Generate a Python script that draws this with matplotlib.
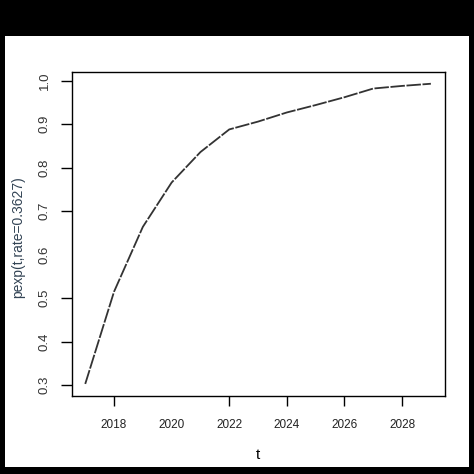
import matplotlib
matplotlib.use('Agg')
import matplotlib.pyplot as plt
from matplotlib.patches import Rectangle

# values (one per year)
years = [2017, 2018, 2019, 2020, 2021, 2022, 2023, 2024, 2025, 2026, 2027, 2028, 2029]
prob = [0.303, 0.515, 0.664, 0.766, 0.836, 0.888, 0.906, 0.927, 0.944, 0.962, 0.982, 0.988, 0.993]

x_ticks = [2018, 2020, 2022, 2024, 2026, 2028]
y_ticks = [0.3, 0.4, 0.5, 0.6, 0.7, 0.8, 0.9, 1.0]

plt.rcParams['font.family'] = ['Liberation Sans', 'DejaVu Sans']

fig = plt.figure(figsize=(4.74, 4.74), dpi=100)
fig.patch.set_facecolor('black')
# white panel inside the black frame
fig.patches.append(Rectangle((5 / 474, 7 / 474), 464 / 474, 431 / 474,
                             transform=fig.transFigure, facecolor='white',
                             edgecolor='none', zorder=-10))

ax = fig.add_axes([71.7 / 474, 78.3 / 474, 373.3 / 474, 323.4 / 474])
ax.set_zorder(5)
ax.plot(years, prob, color='#333333', linewidth=1.3, linestyle=(0, (8, 0.9)))

ax.set_xlim(2016.53, 2029.49)
ax.set_ylim(0.2759, 1.0193)

ax.set_xticks(x_ticks)
ax.set_xticklabels([str(y) for y in x_ticks])
ax.set_yticks(y_ticks)
ax.set_yticklabels([f'{v:.1f}' for v in y_ticks], rotation=90, va='center')

ax.tick_params(axis='x', length=7, width=1, pad=10, labelsize=8.5, colors='black', labelcolor='#222222')
ax.tick_params(axis='y', length=8, width=1, pad=7, labelsize=9.5, colors='black', labelcolor='#333333')

# some tick marks are missing in the reference
ax.xaxis.get_major_ticks()[1].tick1line.set_visible(False)
ax.yaxis.get_major_ticks()[3].tick1line.set_visible(False)

for s in ax.spines.values():
    s.set_linewidth(1)
    s.set_color('black')

ax.set_xlabel('t', fontsize=11)
ax.xaxis.label.set_va('center')
ax.xaxis.set_label_coords(0.499, -0.183)
ax.set_ylabel('pexp(t,rate=0.3627)', fontsize=10, color='#334455')
ax.yaxis.label.set_va('center')
ax.yaxis.set_label_coords(-0.144, 0.49)

fig.savefig('out.png', dpi=100, facecolor=fig.get_facecolor())
